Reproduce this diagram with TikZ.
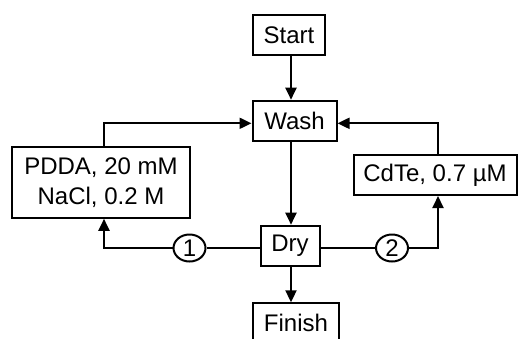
\documentclass[tikz,border=0pt]{standalone}
\usepackage{fontspec}
\setmainfont{Liberation Sans}
\usetikzlibrary{arrows.meta,shapes.geometric}
\begin{document}
\begin{tikzpicture}[x=1pt,y=-1pt,
  every node/.style={font=\fontsize{24}{30}\selectfont},
  box/.style={draw,line width=2pt,inner sep=0pt,align=center,fill=white},
  num/.style={draw,ellipse,line width=2pt,inner sep=0pt,minimum width=32pt,minimum height=27pt,fill=white},
  line/.style={line width=2pt},
  arr/.style={line width=2pt,-{Triangle[length=12pt,width=11pt]}}]
\useasboundingbox (0,0) rectangle (518,338);
\clip (0,0) rectangle (518,338);
\node[box,minimum width=72pt,minimum height=40pt] (start) at (289,35) {Start};
\node[box,minimum width=84pt,minimum height=40pt] (wash) at (294.5,120.7) {Wash};
\node[box,minimum width=59pt,minimum height=40pt] (dry) at (290,245.7) {Dry};
\node[box,minimum width=86pt,minimum height=40pt] (finish) at (296,323.3) {Finish};
\node[box,minimum width=178pt,minimum height=71pt] (pdda) at (101,182.3) {PDDA, 20 mM\\NaCl, 0.2 M};
\node[box,minimum width=163pt,minimum height=40pt] (cdte) at (435,175) {CdTe, 0.7 µM};
\node[num] (n1) at (189.5,248) {1};
\node[num] (n2) at (392,248) {2};
\coordinate (V) at (291,0);
\coordinate (L) at (104,248);
\coordinate (R) at (438,248);
\coordinate (LT) at (104,123.3);
\coordinate (RT) at (438,123.3);
\draw[arr] (start.south -| V) -- (wash.north -| V);
\draw[arr] (wash.south -| V) -- (dry.north -| V);
\draw[arr] (dry.south -| V) -- (finish.north -| V);
\draw[line] (dry.west |- n1) -- (n1);
\draw[arr] (n1) -- (L) -- (pdda.south -| L);
\draw[line] (dry.east |- n2) -- (n2);
\draw[arr] (n2) -- (R) -- (cdte.south -| R);
\draw[arr] (pdda.north -| LT) -- (LT) -- (wash.west |- LT);
\draw[arr] (cdte.north -| RT) -- (RT) -- (wash.east |- RT);
\end{tikzpicture}
\end{document}
